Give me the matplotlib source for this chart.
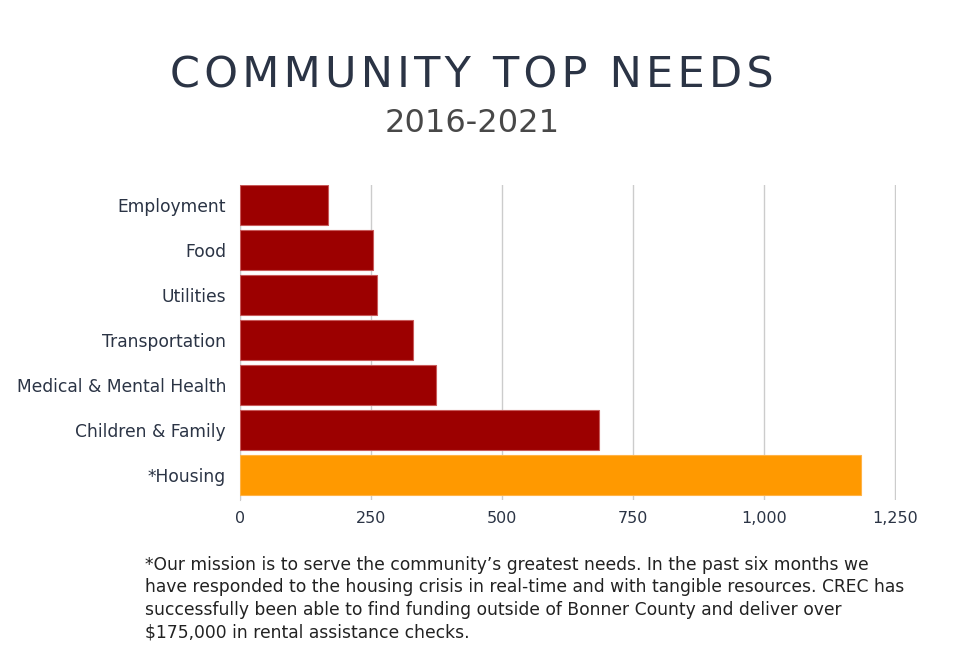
import matplotlib
matplotlib.use("Agg")
import matplotlib.pyplot as plt

# ── Data ──────────────────────────────────────────────────────────────────
needs = ["Employment", "Food", "Utilities", "Transportation",
         "Medical & Mental Health", "Children & Family", "*Housing"]
counts = [168, 254, 261, 330, 374, 686, 1185]
xticks = [0, 250, 500, 750, 1000, 1250]
xtick_labels = ["0", "250", "500", "750", "1,000", "1,250"]

note_lines = [
    "*Our mission is to serve the community\u2019s greatest needs. In the past six months we",
    "have responded to the housing crisis in real-time and with tangible resources. CREC has",
    "successfully been able to find funding outside of Bonner County and deliver over",
    "\\$175,000 in rental assistance checks.",
]

RED = "#9c0000"
ORANGE = "#ff9900"
TEXT = "#2b3445"

plt.rcParams["font.family"] = ["DejaVu Sans"]

fig = plt.figure(figsize=(9.6, 6.66), dpi=100)
ax = fig.add_axes([0.25, 0.2492, 0.6834, 0.4730])

colors = [ORANGE if n.startswith("*") else RED for n in needs]
edges = ["#ffb347" if n.startswith("*") else "#c85a5a" for n in needs]
ypos = list(range(len(needs)))
ax.barh(ypos, counts, height=0.88, color=colors, edgecolor=edges,
        linewidth=0.8, zorder=3)

ax.set_ylim(len(needs) - 0.45, -0.45)
ax.set_xlim(0, 1252)
ax.set_yticks(ypos)
ax.set_yticklabels(needs, fontsize=12.3, color=TEXT)
ax.set_xticks(xticks)
ax.set_xticklabels(xtick_labels, fontsize=11.5, color=TEXT)
ax.tick_params(axis="y", length=0, pad=10)
ax.tick_params(axis="x", length=0, pad=8)

ax.grid(axis="x", color="#cccccc", linewidth=1, zorder=0)
for side in ["top", "right", "bottom"]:
    ax.spines[side].set_visible(False)
ax.spines["left"].set_color("#cccccc")

# ── Titles ────────────────────────────────────────────────────────────────
# wide letter spacing via hair spaces between characters
title = "\u200a".join("COMMUNITY TOP NEEDS")
fig.text(472 / 960, 1 - 75 / 666, title, ha="center", va="center",
         fontsize=31, color=TEXT)
fig.text(472 / 960, 1 - 123 / 666, "2016-2021", ha="center", va="center",
         fontsize=23, color="#484848")

# ── Footnote ──────────────────────────────────────────────────────────────
for i, line in enumerate(note_lines):
    fig.text(145 / 960, 1 - (565 + i * 22.4) / 666, line, ha="left",
             va="center", fontsize=12.35, color="#222222")

fig.savefig("out.png", dpi=100)
